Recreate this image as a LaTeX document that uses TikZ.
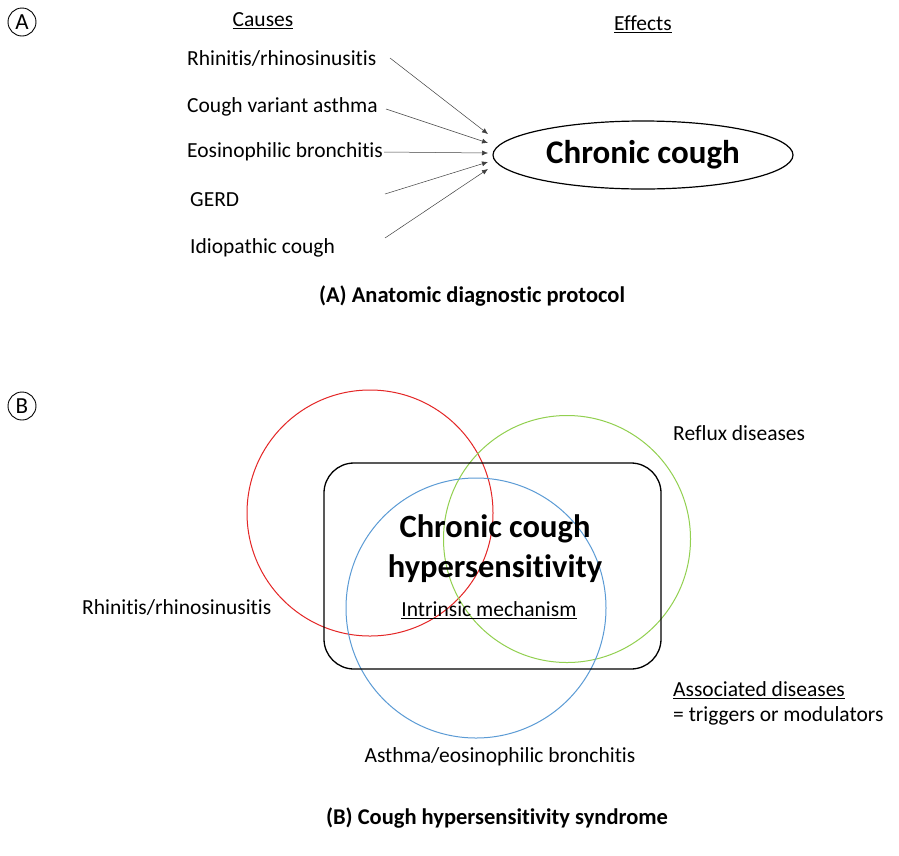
\documentclass[tikz,border=0pt]{standalone}
\usepackage{fontspec}
\setmainfont[Ligatures={NoCommon,NoContextual}]{Carlito}
\usetikzlibrary{shapes.geometric,arrows.meta}
\definecolor{cred}{RGB}{228,38,38}
\definecolor{cgreen}{RGB}{146,208,80}
\definecolor{cblue}{RGB}{91,155,213}
\tikzset{
  txt/.style={inner sep=0pt, font=\fontsize{21.5}{26}\selectfont},
  bigtxt/.style={inner sep=0pt, font=\fontsize{32.5}{40}\selectfont\bfseries, align=center},
  captxt/.style={inner sep=0pt, font=\fontsize{22.5}{26}\selectfont\bfseries},
  lbl/.style={circle, draw, line width=0.9pt, minimum size=28pt, inner sep=0pt, font=\fontsize{23}{23}\selectfont},
  arr/.style={draw=black!75, line width=0.5pt, -{Latex[length=6pt,width=5pt]}},
  ring/.style={circle, draw, line width=1pt, inner sep=0pt},
}
\begin{document}
\begin{tikzpicture}[x=1pt,y=-1pt]
\useasboundingbox (0,0) rectangle (899,855);
\fill[white] (0,0) rectangle (899,855);
% Part A
\node[lbl] (la) at (22,22) {A};
\node[txt] (causes) at (263,21) {\underline{Causes}};
\node[txt] (effects) at (643,24) {\underline{Effects}};
\node[txt, anchor=west] (c1) at (187,58) {Rhinitis/rhinosinusitis};
\node[txt, anchor=west] (c2) at (187,107) {Cough variant asthma};
\node[txt, anchor=west] (c3) at (187,152) {Eosinophilic bronchitis};
\node[txt, anchor=west] (c4) at (190,200) {GERD};
\node[txt, anchor=west] (c5) at (190,248) {Idiopathic cough};
\node[ellipse, draw, line width=1.2pt, minimum width=300pt, minimum height=68pt, inner sep=0pt,
      font=\fontsize{33}{35}\selectfont\bfseries] (cc) at (643,155) {Chronic cough};
\coordinate (t1) at (488,134);
\coordinate (t2) at (488,143);
\coordinate (t3) at (488,153);
\coordinate (t4) at (488,162);
\coordinate (t5) at (488,169);
\draw[arr] (390,58) -- (t1);
\draw[arr] (386,109) -- (t2);
\draw[arr] ([xshift=1pt]c3.east) -- (t3);
\draw[arr] (385,194) -- (t4);
\draw[arr] (385,238) -- (t5);
\node[captxt] (capa) at (472,296) {(A) Anatomic diagnostic protocol};
% Part B
\node[lbl] (lb) at (22,406) {B};
\node[ring, draw=cred, minimum size=246pt] (rc) at (370,513) {};
\node[ring, draw=cgreen, minimum size=247pt] (gc) at (567,539) {};
\node[ring, draw=cblue, minimum size=260pt] (bc) at (476,608) {};
\node[draw, line width=1.3pt, rounded corners=30pt, minimum width=337pt, minimum height=206pt, inner sep=0pt] (box) at (492.5,566) {};
\node[bigtxt] (chs) at (495,549) {Chronic cough\\hypersensitivity};
\node[txt] (im) at (489,610) {\underline{Intrinsic mechanism}};
\node[txt, anchor=west] (rf) at (673,433) {Reflux diseases};
\node[txt, anchor=west] (rh) at (82,607) {Rhinitis/rhinosinusitis};
\node[txt, anchor=west] (ad) at (673,690) {\underline{Associated diseases}};
\node[txt, anchor=west] (tm) at (673,716) {= triggers or modulators};
\node[txt] (ae) at (500,757) {Asthma/eosinophilic bronchitis};
\node[captxt] (capb) at (497,818) {(B) Cough hypersensitivity syndrome};
\end{tikzpicture}
\end{document}
